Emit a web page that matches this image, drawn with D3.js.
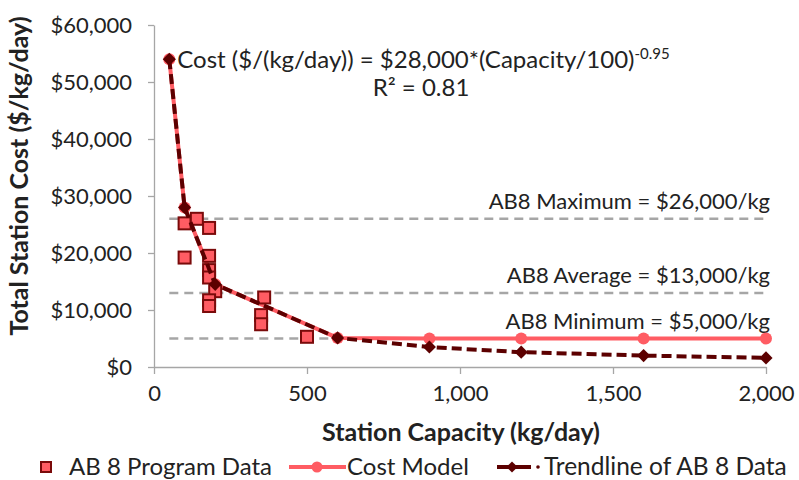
<!DOCTYPE html>
<html>
<head>
<meta charset="utf-8">
<script src="https://cdn.jsdelivr.net/npm/d3@7"></script>
<style>
  body { margin: 0; background: #fff; }
  svg { font-family: Lato, "Open Sans", sans-serif; }
</style>
</head>
<body>
<svg width="799" height="480"></svg>
<script>
// AB 8 program data: [capacity kg/day, cost $/kg/day]
const programData = [
  [100, 25200], [140, 26000], [180, 24400], [100, 19200],
  [180, 19500], [180, 17000], [180, 15700], [200, 13300],
  [180, 11700], [180, 10700], [360, 12200], [350, 9100],
  [350, 7500], [500, 5300]
];
const costModel = [
  [50, 54000], [100, 28000], [200, 14500], [600, 5100],
  [900, 5000], [1200, 5000], [1600, 5000], [2000, 5000]
];
const trendline = [
  [50, 54000], [100, 28000], [200, 14500], [600, 5100],
  [900, 3500], [1200, 2600], [1600, 2000], [2000, 1600]
];
const refLines = [
  {value: 26000, label: "AB8 Maximum = $26,000/kg"},
  {value: 13000, label: "AB8 Average = $13,000/kg"},
  {value: 5000, label: "AB8 Minimum = $5,000/kg"}
];
const xTicks = [0, 500, 1000, 1500, 2000];
const yTicks = [0, 10000, 20000, 30000, 40000, 50000, 60000];

const pink = "#ff5c63", maroon = "#5c0000", sqStroke = "#7a0a0a", grey = "#a6a6a6";

const svg = d3.select("svg");
const margin = {top: 25, right: 33, bottom: 113, left: 154};
const width = 799, height = 480;

const x = d3.scaleLinear().domain([0, 2000]).range([margin.left, width - margin.right]);
const y = d3.scaleLinear().domain([0, 60000]).range([height - margin.bottom, margin.top]);

// axes
const xAxis = svg.append("g")
    .attr("transform", `translate(0,${y(0)})`)
    .call(d3.axisBottom(x).tickValues(xTicks).tickSize(7).tickSizeOuter(0).tickFormat(d3.format(",")));
const yAxis = svg.append("g")
    .attr("transform", `translate(${x(0)},0)`)
    .call(d3.axisLeft(y).tickValues(yTicks).tickSize(6).tickSizeOuter(0).tickFormat(d => "$" + d3.format(",")(d)));
[xAxis, yAxis].forEach(g => {
  g.select(".domain").attr("stroke", grey).attr("stroke-width", 1.3);
  g.selectAll(".tick line").attr("stroke", grey).attr("stroke-width", 1.3);
  g.selectAll(".tick text").attr("fill", "#222").attr("font-size", 22).attr("font-family", "Lato, sans-serif");
});
xAxis.selectAll(".tick text").attr("y", 18).attr("dy", "0.71em");
yAxis.selectAll(".tick text").attr("x", -22);

// reference lines
svg.append("g").selectAll("line")
  .data(refLines).join("line")
    .attr("x1", x(50)).attr("x2", x(2000))
    .attr("y1", d => y(d.value)).attr("y2", d => y(d.value))
    .attr("stroke", grey).attr("stroke-width", 2.5)
    .attr("stroke-dasharray", "9,6");
svg.append("g").selectAll("text")
  .data(refLines).join("text")
    .attr("x", x(2000) + 4).attr("y", d => y(d.value) - 10)
    .attr("text-anchor", "end")
    .attr("font-size", 22).attr("fill", "#222")
    .text(d => d.label);

const line = d3.line().x(d => x(d[0])).y(d => y(d[1]));

// cost model line
svg.append("path").datum(costModel)
    .attr("d", line).attr("fill", "none")
    .attr("stroke", pink).attr("stroke-width", 4);
svg.append("g").selectAll("circle")
  .data(costModel).join("circle")
    .attr("cx", d => x(d[0])).attr("cy", d => y(d[1])).attr("r", 6)
    .attr("fill", pink);

// program data squares
svg.append("g").selectAll("rect")
  .data(programData).join("rect")
    .attr("x", d => x(d[0]) - 6).attr("y", d => y(d[1]) - 6)
    .attr("width", 12).attr("height", 12)
    .attr("fill", pink).attr("stroke", sqStroke).attr("stroke-width", 2);

// trendline
svg.append("path").datum(trendline)
    .attr("d", line).attr("fill", "none")
    .attr("stroke", maroon).attr("stroke-width", 4)
    .attr("stroke-dasharray", "10,5");
const diamond = d3.symbol().type(d3.symbolDiamond2).size(110);
svg.append("g").selectAll("path")
  .data(trendline).join("path")
    .attr("transform", d => `translate(${x(d[0])},${y(d[1])})`)
    .attr("d", diamond).attr("fill", maroon);

// equation
const eq = svg.append("text").attr("x", x(50) + 8).attr("y", 68)
    .attr("font-size", 24).attr("fill", "#222");
eq.append("tspan").text("Cost ($/(kg/day)) = $28,000*(Capacity/100)");
eq.append("tspan").attr("dy", -9).attr("font-size", 15).text("-0.95");
svg.append("text").attr("x", 421).attr("y", 96)
    .attr("text-anchor", "middle").attr("font-size", 24).attr("fill", "#222")
    .text("R² = 0.81");

// axis titles
svg.append("text")
    .attr("x", 461).attr("y", 441)
    .attr("text-anchor", "middle").attr("font-size", 25).attr("font-weight", "bold")
    .attr("fill", "#222").text("Station Capacity (kg/day)");
svg.append("text")
    .attr("transform", `translate(28,${(y(0) + y(60000)) / 2 - 20}) rotate(-90)`)
    .attr("text-anchor", "middle").attr("font-size", 25).attr("font-weight", "bold")
    .attr("fill", "#222").text("Total Station Cost ($/kg/day)");

// legend
const lg = svg.append("g").attr("transform", "translate(0,467)");
lg.append("rect").attr("x", 41).attr("y", -5).attr("width", 10).attr("height", 10)
    .attr("fill", pink).attr("stroke", sqStroke).attr("stroke-width", 2);
lg.append("text").attr("x", 69).attr("y", 8).attr("font-size", 24).attr("fill", "#222").text("AB 8 Program Data");
lg.append("line").attr("x1", 289).attr("x2", 346).attr("y1", 0).attr("y2", 0)
    .attr("stroke", pink).attr("stroke-width", 4);
lg.append("circle").attr("cx", 317).attr("cy", 0).attr("r", 5.5).attr("fill", pink);
lg.append("text").attr("x", 347).attr("y", 8).attr("font-size", 24).attr("fill", "#222").text("Cost Model");
lg.append("line").attr("x1", 497).attr("x2", 531).attr("y1", 0).attr("y2", 0)
    .attr("stroke", maroon).attr("stroke-width", 4);
lg.append("circle").attr("cx", 538).attr("cy", 0).attr("r", 1.8).attr("fill", maroon);
lg.append("path").attr("transform", "translate(512,0)").attr("d", d3.symbol().type(d3.symbolDiamond2).size(80)).attr("fill", maroon);
lg.append("text").attr("x", 544).attr("y", 8).attr("font-size", 24.5).attr("fill", "#222").text("Trendline of AB 8 Data");
</script>
</body>
</html>
